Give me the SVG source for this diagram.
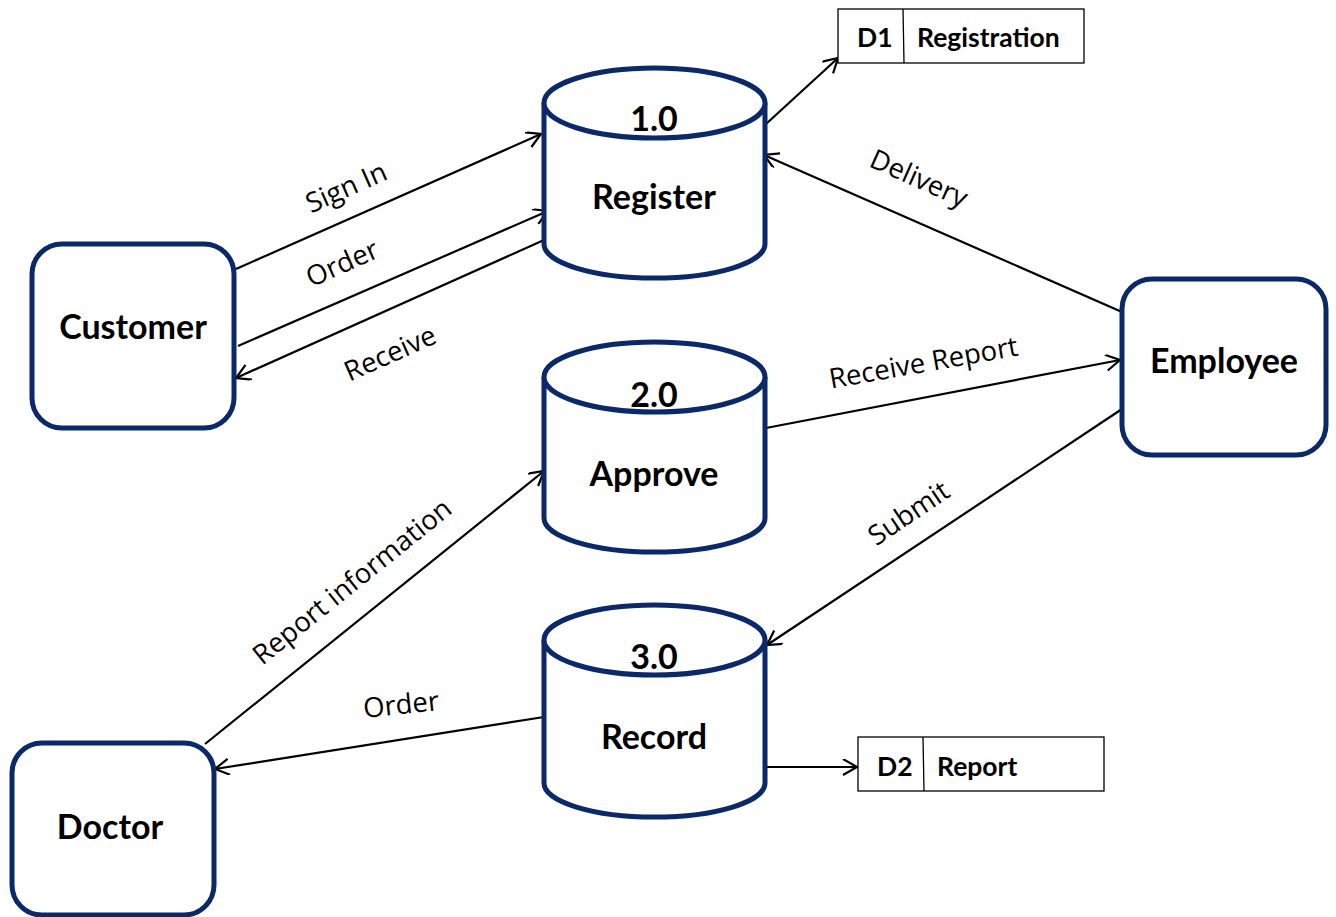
<svg xmlns="http://www.w3.org/2000/svg" width="1336" height="917" viewBox="0 0 1336 917">
  <defs>
    <marker id="arrow" markerUnits="userSpaceOnUse" markerWidth="20" markerHeight="20" refX="15" refY="8" orient="auto">
      <path d="M1,0 L15,8 L1,16" fill="none" stroke="#000" stroke-width="2.2"/>
    </marker>
    <style>
      .entity { fill: #fff; stroke: #0b2868; stroke-width: 5; }
      .proc { fill: #fff; stroke: #0b2868; stroke-width: 5; }
      .store { fill: #fff; stroke: #000; stroke-width: 1.3; }
      .flow { fill: none; stroke: #000; stroke-width: 2.2; }
      .title { font-family: Lato, "Liberation Sans", sans-serif; font-weight: bold; font-size: 34px; fill: #000; text-anchor: middle; }
      .storetxt { font-family: Lato, "Liberation Sans", sans-serif; font-weight: bold; font-size: 26.5px; fill: #000; }
      .lbl { font-family: "Open Sans", "Liberation Sans", sans-serif; font-size: 27.5px; fill: #000; text-anchor: middle; }
    </style>
  </defs>
  <rect width="1336" height="917" fill="#fff"/>

  <!-- data flows -->
  <g id="connectors">
    <line class="flow" x1="236" y1="269" x2="541" y2="134" marker-end="url(#arrow)"/>
    <line class="flow" x1="238" y1="346" x2="548" y2="211" marker-end="url(#arrow)"/>
    <line class="flow" x1="544" y1="240" x2="236" y2="378" marker-end="url(#arrow)"/>
    <line class="flow" x1="766" y1="124" x2="838" y2="58" marker-end="url(#arrow)"/>
    <line class="flow" x1="1122" y1="312" x2="764" y2="155" marker-end="url(#arrow)"/>
    <line class="flow" x1="766" y1="428" x2="1120" y2="360" marker-end="url(#arrow)"/>
    <line class="flow" x1="1122" y1="409" x2="767" y2="645" marker-end="url(#arrow)"/>
    <line class="flow" x1="205" y1="744" x2="544" y2="471" marker-end="url(#arrow)"/>
    <line class="flow" x1="544" y1="717" x2="215" y2="769" marker-end="url(#arrow)"/>
    <line class="flow" x1="766" y1="767" x2="857" y2="767" marker-end="url(#arrow)"/>

    <text class="lbl" transform="translate(350,196) rotate(-24)">Sign In</text>
    <text class="lbl" transform="translate(346,272) rotate(-24)">Order</text>
    <text class="lbl" transform="translate(394,362) rotate(-24)">Receive</text>
    <text class="lbl" transform="translate(915,187) rotate(24)">Delivery</text>
    <text class="lbl" transform="translate(925,372) rotate(-10)">Receive Report</text>
    <text class="lbl" transform="translate(914,521) rotate(-34)">Submit</text>
    <text class="lbl" transform="translate(358,589) rotate(-38.8)">Report information</text>
    <text class="lbl" transform="translate(402,714) rotate(-6)">Order</text>
  </g>

  <!-- external entities -->
  <g id="customer">
    <rect class="entity" x="32" y="244" width="202" height="184" rx="30"/>
    <text class="title" x="133" y="339">Customer</text>
  </g>
  <g id="employee">
    <rect class="entity" x="1122" y="279" width="204" height="176" rx="30"/>
    <text class="title" x="1224" y="373">Employee</text>
  </g>
  <g id="doctor">
    <rect class="entity" x="12" y="743" width="202" height="172" rx="30"/>
    <text class="title" x="110" y="839">Doctor</text>
  </g>

  <!-- processes -->
  <g id="process-1">
    <path class="proc" d="M544,103 L544,244 A110.5,34 0 0 0 765,244 L765,103"/>
    <ellipse class="proc" cx="654.5" cy="103" rx="110.5" ry="35"/>
    <text class="title" x="654" y="131">1.0</text>
    <text class="title" x="654" y="209">Register</text>
  </g>
  <g id="process-2">
    <path class="proc" d="M544,377 L544,518 A110.5,34 0 0 0 765,518 L765,377"/>
    <ellipse class="proc" cx="654.5" cy="377" rx="110.5" ry="35"/>
    <text class="title" x="654" y="407">2.0</text>
    <text class="title" x="654" y="486">Approve</text>
  </g>
  <g id="process-3">
    <path class="proc" d="M544,640 L544,783 A110.5,34 0 0 0 765,783 L765,640"/>
    <ellipse class="proc" cx="654.5" cy="640" rx="110.5" ry="35"/>
    <text class="title" x="654" y="669">3.0</text>
    <text class="title" x="654" y="749">Record</text>
  </g>

  <!-- data stores -->
  <g id="store-d1">
    <rect class="store" x="838" y="9" width="246" height="54"/>
    <line class="store" x1="903" y1="9" x2="904" y2="63"/>
    <text class="storetxt" x="857" y="47">D1</text>
    <text class="storetxt" x="917" y="47">Registration</text>
  </g>
  <g id="store-d2">
    <rect class="store" x="858" y="737" width="246" height="54"/>
    <line class="store" x1="923" y1="737" x2="924" y2="791"/>
    <text class="storetxt" x="877" y="776">D2</text>
    <text class="storetxt" x="937" y="776">Report</text>
  </g>
</svg>
